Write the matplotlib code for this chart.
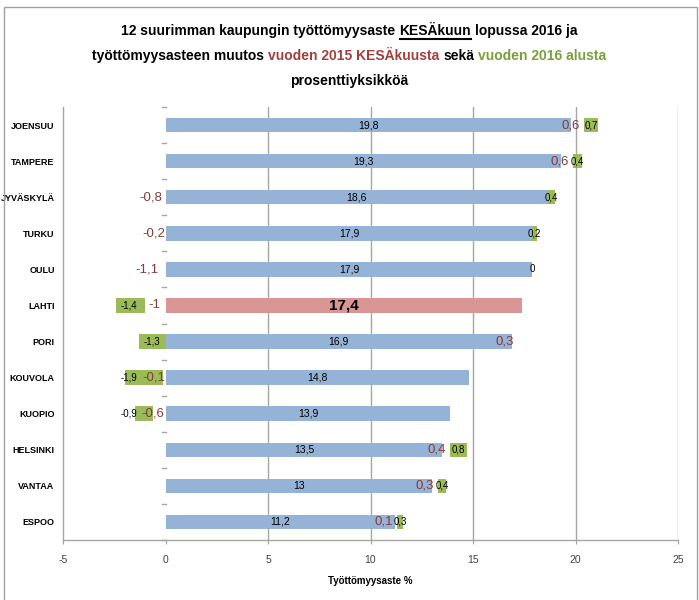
import matplotlib
matplotlib.use("Agg")
import matplotlib.pyplot as plt
from matplotlib.patches import Rectangle

plt.rcParams['font.family'] = ['Liberation Sans', 'DejaVu Sans']

# Data
cities = ["JOENSUU", "TAMPERE", "JYVÄSKYLÄ", "TURKU", "OULU", "LAHTI",
          "PORI", "KOUVOLA", "KUOPIO", "HELSINKI", "VANTAA", "ESPOO"]
rate = [19.8, 19.3, 18.6, 17.9, 17.9, 17.4, 16.9, 14.8, 13.9, 13.5, 13, 11.2]
change_yoy = [0.6, 0.6, -0.8, -0.2, -1.1, -1, 0.3, -0.1, -0.6, 0.4, 0.3, 0.1]
change_ytd = [0.7, 0.4, 0.4, 0.2, 0, -1.4, -1.3, -1.9, -0.9, 0.8, 0.4, 0.3]
highlight = "LAHTI"
xticks = [-5, 0, 5, 10, 15, 20, 25]

blue = '#95B3D7'
pink = '#DA9694'
green = '#9BBB59'
dark_red = '#843C39'
title_red = '#A0403D'
title_green = '#77A03A'


def fmt(v):
    return '{:g}'.format(v).replace('.', ',')


W, H = 699, 600
fig = plt.figure(figsize=(W / 100, H / 100), dpi=100)
ax = fig.add_axes([63 / W, 1 - 540 / H, (678 - 63) / W, (540 - 107) / H])

n = len(cities)
ypos = list(range(n))
bar_h = 0.4

# Main bars
colors = [pink if c == highlight else blue for c in cities]
ax.barh(ypos, rate, height=bar_h, color=colors, zorder=2)

for i in range(n):
    r, d, g = rate[i], change_yoy[i], change_ytd[i]
    fs_main = 11 if cities[i] == highlight else 7.5
    fw_main = 'bold' if cities[i] == highlight else 'normal'
    ax.text(r / 2, i, fmt(r), ha='center', va='center', fontsize=fs_main,
            fontweight=fw_main, color='black', zorder=4)

    # Year-on-year change: invisible stacked segment, only the label shows
    if d >= 0:
        ax.text(r + d - 0.2, i, fmt(d), ha='right', va='center', fontsize=9.5,
                color=dark_red, zorder=4)
    else:
        ax.text(-0.02 + min(d / 2 + 0.25, 0), i, fmt(d), ha='right', va='center',
                fontsize=9.5, color=dark_red, zorder=4)

    # Change since start of year: green stacked segment
    if g >= 0:
        left = r + max(d, 0)
    else:
        left = min(d, 0)
    if g != 0:
        ax.barh(i, g, left=left, height=bar_h, color=green, zorder=3)
    gx = left + g / 2
    if g < 0 and d < 0:
        gx = min(gx, -1.8)
    ax.text(gx, i, fmt(g), ha='center', va='center', fontsize=7,
            color='black', zorder=5)

# Axes styling
ax.set_xlim(-5, 25)
ax.set_ylim(n - 0.5, -0.5)
ax.set_xticks(xticks)
ax.set_xticklabels([str(t) for t in xticks], fontsize=7.5, color='#404040')
ax.set_yticks(ypos)
ax.set_yticklabels(cities, fontsize=6.5, fontweight='bold')
ax.tick_params(axis='y', length=0, pad=6)
ax.tick_params(axis='x', length=3, color='#A0A0A0', pad=8)
for t in xticks[2:]:
    ax.axvline(t, color='#A6A6A6', linewidth=1, zorder=1)
for s in ['top', 'right']:
    ax.spines[s].set_visible(False)
for s in ['left', 'bottom']:
    ax.spines[s].set_color('#A6A6A6')
    ax.spines[s].set_linewidth(1)

# Category separators on the zero line
for i in range(n + 1):
    ax.plot([-0.18, 0], [i - 0.5, i - 0.5], color='#A6A6A6', linewidth=1,
            zorder=1, clip_on=False)

ax.set_xlabel("Työttömyysaste %", fontsize=7, fontweight='bold', labelpad=8)

# Outer frame
fig.patches.append(Rectangle((4 / W, -0.01), (697 - 4) / W, 1 - 7 / H + 0.01,
                             transform=fig.transFigure, fill=False,
                             edgecolor='#A0A0A0', linewidth=1))

# Title with coloured pieces
fig.canvas.draw()
renderer = fig.canvas.get_renderer()
tkw = dict(fontsize=10, fontweight='bold', va='center')


def text_width(s):
    t = fig.text(0, 0, s, **tkw)
    w = t.get_window_extent(renderer).width
    t.remove()
    return w


space_w = text_width("x x") - text_width("xx")


def title_line(parts, y_px, underline=None):
    widths = [text_width(s) for s, c in parts]
    total = sum(widths) + space_w * (len(parts) - 1)
    x = W / 2 - total / 2
    for (s, c), w in zip(parts, widths):
        fig.text(x / W, 1 - y_px / H, s, color=c, **tkw)
        if s == underline:
            fig.add_artist(plt.Line2D([x / W, (x + w) / W],
                                      [1 - (y_px + 8) / H, 1 - (y_px + 8) / H],
                                      transform=fig.transFigure, color='black',
                                      linewidth=1.5))
        x += w + space_w


title_line([("12 suurimman kaupungin työttömyysaste", 'black'),
            ("KESÄkuun", 'black'),
            ("lopussa 2016 ja", 'black')], 31, underline="KESÄkuun")
title_line([("työttömyysasteen muutos", 'black'),
            ("vuoden 2015 KESÄkuusta", title_red),
            ("sekä", 'black'),
            ("vuoden 2016 alusta", title_green)], 56)
title_line([("prosenttiyksikköä", 'black')], 81)

fig.savefig("out.png", dpi=100)
